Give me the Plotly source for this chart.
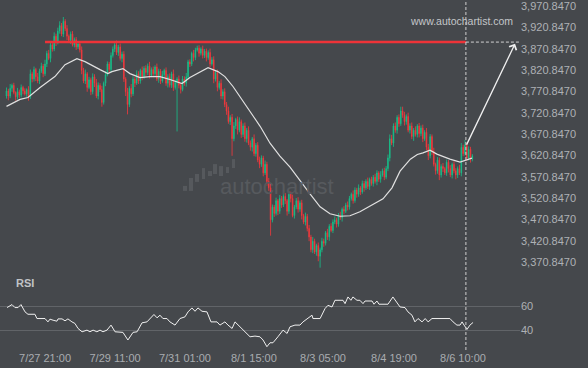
import plotly.graph_objects as go

# ---------------- data ----------------
close = [
    3772, 3760, 3778, 3785, 3768, 3758, 3770, 3762, 3780, 3772,
    3765, 3775, 3758, 3812, 3800, 3822, 3805, 3795, 3818, 3830,
    3812, 3835, 3860, 3848, 3880, 3870, 3900, 3885, 3912, 3925,
    3905, 3935, 3918, 3900, 3890, 3905, 3880, 3892, 3875, 3882,
    3868, 3820, 3795, 3812, 3780, 3798, 3770, 3805, 3790, 3760,
    3785, 3775, 3745, 3790, 3810, 3835, 3822, 3855, 3870, 3880,
    3862, 3875, 3848, 3858, 3800, 3770, 3740, 3778, 3765, 3800,
    3790, 3812, 3795, 3820, 3805, 3825, 3815, 3830, 3808, 3822,
    3812, 3828, 3800, 3818, 3795, 3810, 3820, 3790, 3805, 3785,
    3812, 3780, 3792, 3800, 3785, 3775, 3800, 3790, 3805, 3840,
    3835, 3860, 3850, 3868, 3872, 3860, 3870, 3855, 3865, 3850,
    3862, 3835, 3845, 3800, 3815, 3780, 3790, 3760, 3770, 3740,
    3725, 3700, 3710, 3660, 3690, 3705, 3680, 3700, 3670, 3690,
    3660, 3680, 3650, 3640, 3660, 3625, 3645, 3610, 3600, 3615,
    3580, 3600, 3560, 3545, 3470, 3500, 3485, 3515, 3490, 3520,
    3505, 3525, 3515, 3490, 3530, 3520, 3480, 3500, 3515, 3495,
    3510, 3480, 3465, 3478, 3450, 3430, 3400, 3420, 3395, 3410,
    3385, 3400, 3420, 3415, 3440, 3430, 3455, 3445, 3465, 3470,
    3460, 3480, 3475, 3495, 3490, 3505, 3500, 3520, 3530, 3515,
    3540, 3530, 3545, 3535, 3555, 3545, 3560, 3548, 3565, 3555,
    3570, 3560, 3580, 3565, 3575, 3585, 3570, 3590, 3615, 3660,
    3650, 3690, 3680, 3710, 3695, 3725, 3715, 3700, 3712, 3680,
    3690, 3665, 3680, 3670, 3690, 3672, 3685, 3660, 3675, 3640,
    3620, 3665, 3630, 3600, 3585, 3610, 3575, 3595, 3590, 3580,
    3605, 3590, 3575, 3600, 3585, 3575, 3590, 3580, 3640, 3625,
    3645, 3615, 3635, 3612, 3620,
]
first_open = 3760

wick_up = [
    8, 5, 10, 4, 6, 3, 9, 5, 7, 4,
    6, 3, 8, 10, 5, 7, 4, 9, 6, 8,
    5, 10, 6, 8, 7, 5, 9, 6, 8, 10,
    6, 10, 5, 8, 4, 6, 7, 5, 6, 4,
    5, 8, 6, 10, 4, 7, 5, 8, 6, 10,
    7, 5, 9, 4, 8, 6, 5, 7, 6, 8,
    10, 5, 8, 6, 7, 4, 9, 5, 10, 6,
    5, 8, 6, 4, 9, 5, 7, 6, 10, 5,
    7, 4, 8, 6, 5, 9, 4, 7, 6, 8,
    5, 10, 6, 4, 8, 5, 7, 6, 9, 5,
    6, 4, 8, 5, 6, 7, 4, 8, 5, 6,
    5, 9, 6, 8, 4, 7, 5, 9, 6, 8,
    6, 10, 5, 8, 9, 4, 7, 10, 5, 6,
    8, 5, 9, 6, 4, 10, 5, 7, 8, 6,
    5, 9, 6, 8, 10, 6, 5, 7, 4, 8,
    6, 5, 8, 4, 7, 6, 9, 5, 6, 8,
    5, 7, 4, 9, 6, 8, 5, 10, 6, 4,
    7, 5, 8, 6, 4, 9, 5, 7, 6, 8,
    5, 6, 9, 4, 7, 5, 8, 6, 4, 9,
    6, 5, 8, 4, 7, 6, 5, 9, 4, 6,
    5, 8, 6, 4, 9, 5, 7, 6, 8, 10,
    9, 6, 8, 5, 7, 10, 10, 8, 5, 9,
    6, 8, 5, 9, 4, 7, 6, 8, 5, 10,
    8, 6, 5, 9, 4, 7, 6, 5, 8, 4,
    6, 5, 8, 4, 7, 6, 5, 9, 10, 6,
    12, 5, 7, 6, 4,
]
wick_dn = [
    6, 10, 5, 8, 4, 9, 6, 7, 5, 8,
    4, 7, 9, 5, 8, 6, 10, 5, 7, 4,
    8, 5, 7, 4, 9, 6, 5, 8, 4, 6,
    5, 7, 6, 9, 5, 8, 4, 6, 7, 5,
    6, 9, 5, 7, 10, 4, 8, 6, 9, 5,
    8, 6, 10, 5, 7, 4, 8, 6, 5, 7,
    6, 8, 5, 9, 7, 10, 23, 6, 8, 5,
    9, 4, 7, 6, 8, 5, 10, 6, 7, 4,
    8, 6, 5, 9, 7, 4, 8, 6, 10, 5,
    6, 8, 5, 115, 7, 9, 4, 6, 8, 5,
    7, 5, 9, 6, 4, 8, 5, 7, 6, 9,
    5, 8, 4, 10, 6, 9, 5, 7, 8, 6,
    9, 5, 8, 40, 6, 7, 10, 5, 8, 6,
    7, 9, 5, 8, 10, 6, 7, 5, 9, 6,
    8, 5, 10, 7, 37, 6, 8, 5, 9, 6,
    7, 5, 8, 10, 6, 9, 4, 7, 5, 8,
    6, 9, 5, 8, 7, 10, 6, 8, 5, 9,
    12, 27, 6, 8, 5, 7, 9, 4, 6, 5,
    8, 6, 5, 9, 7, 4, 8, 6, 5, 7,
    5, 8, 6, 7, 4, 9, 5, 6, 8, 5,
    7, 5, 9, 6, 8, 4, 7, 5, 6, 8,
    5, 9, 6, 8, 7, 5, 6, 9, 7, 5,
    8, 6, 10, 5, 7, 9, 6, 8, 5, 7,
    10, 6, 8, 5, 9, 7, 12, 6, 8, 5,
    7, 9, 5, 8, 6, 10, 7, 5, 8, 6,
    5, 7, 6, 8, 5,
]

# moving average
ma_x = [0, 7.4, 11.7, 18.3, 26.4, 31.9, 38.4, 42.8, 51, 55.3, 57.5, 63.5, 67.3,
        72.8, 78.2, 83.7, 89.1, 95.7, 100, 105.5, 109.9, 115.3, 119.1, 123.5,
        127.3, 132.8, 138.3, 143.7, 149.1, 154.6, 160, 165.5, 171, 176.4, 181.9,
        187.3, 192.7, 198.2, 205.3, 210.2, 214.6, 220.2, 224, 227.1, 230.9,
        234.7, 241.8, 247.3, 250.5, 253.8]
ma_val = [3735.7, 3752, 3756.6, 3779.9, 3805.5, 3833.5, 3847.4, 3840.5, 3821.8,
          3812.5, 3817.2, 3824.2, 3812.5, 3803.2, 3805.5, 3805.5, 3798.6, 3789.2,
          3803.2, 3817.2, 3826.5, 3817.2, 3805.5, 3782.3, 3759, 3724, 3689.1,
          3649.5, 3619.3, 3593.7, 3561.1, 3530.8, 3500.5, 3484.2, 3478.4, 3479.6,
          3488.9, 3502.9, 3519.2, 3545, 3584, 3612, 3623, 3627, 3633.3, 3623.9,
          3612.3, 3605.3, 3610, 3614.6]

# RSI
rsi_x = [0.3, 3, 4.6, 6.3, 7.9, 10.1, 11.7, 15.5, 16.6, 21, 22.6, 23.7, 25.4, 27.5,
         28.1, 30.3, 31.9, 33.5, 35.7, 37.3, 39, 41.2, 43.9, 45.5, 47.2, 49.3, 51,
         52.6, 54.8, 57, 59.2, 63.5, 66.2, 69, 71.2, 73.9, 76.6, 78.2, 80.4, 82.1,
         83.7, 85.3, 87.5, 89.1, 91.9, 94.6, 97.3, 99, 101.1, 102.8, 104.4, 106.6,
         109.3, 111.5, 114.8, 116.4, 119.1, 120.8, 123, 124.6, 127.3, 130.1, 132.8,
         135.5, 138.2, 139.9, 142, 143.7, 145.3, 148, 150.8, 153, 154.6, 157.3, 160,
         161.7, 163.9, 166.6, 167.1, 171, 173.7, 175.3, 177.5, 179.1, 183.5, 184.6,
         186.2, 187.8, 188.9, 191.1, 192.7, 194.4, 195.5, 199.3, 200.4, 202, 203.1,
         208, 210.7, 212.9, 214.6, 217.3, 218.9, 221.1, 222.7, 224.4, 226.6, 228.3,
         229.9, 232, 241.8, 243.5, 245.6, 247.3, 248.4, 249.5, 251.1, 252.7, 254.4]
rsi_val = [58.9, 61.4, 58.9, 58.9, 61.4, 55.3, 53.3, 53.3, 49.7, 49.7, 46.9, 49.2,
           48.3, 47.5, 49.4, 49.4, 47.8, 49.4, 46.9, 45.6, 41.4, 38.6, 40, 38.6, 40,
           38.6, 40, 38.6, 40, 44.2, 38.6, 38.1, 31.7, 38.1, 38.6, 46.1, 46.9, 49.7,
           53.1, 50.3, 52.5, 49.7, 49.7, 46.9, 44.2, 49.7, 51.1, 55.3, 58.6, 55.8,
           58.6, 55.8, 55.3, 46.9, 46.9, 44.2, 46.9, 44.2, 41.4, 46.9, 42.8, 38.6,
           34.4, 35, 34.4, 31.7, 26.1, 29.4, 29.4, 34.4, 40, 37.2, 42.8, 44.2, 44.2,
           46.9, 49.7, 52.5, 49.7, 49.7, 58.1, 60.8, 59.4, 65, 65, 62.2, 67.8, 65,
           67.8, 65, 65, 62.2, 64.4, 64.4, 61.7, 64.4, 61.7, 61.7, 67.8, 63.6, 59.4,
           58.9, 55.3, 52.5, 46.9, 49.7, 46.9, 49.7, 46.9, 49.7, 49.7, 46.9, 44.2,
           44.2, 46.9, 44.2, 40.6, 44.2, 46.4]

level = 3886.3          # resistance level
level_start = 21        # bar where the level starts
signal_bar = 250.5      # vertical marker / arrow start
target_bar = 277.3      # arrow end
arrow_from = 3642.6
arrow_to = 3882.4

x_tick_pos = [21, 59.2, 97.3, 134.9, 172.6, 211.3, 248.9]
x_tick_text = ["7/27 21:00", "7/29 11:00", "7/31 01:00", "8/1 15:00",
               "8/3 05:00", "8/4 19:00", "8/6 10:00"]
price_ticks = [3370.847 + 50 * k for k in range(13)]
rsi_ticks = [40, 60]

# ---------------- derive OHLC ----------------
n = len(close)
idx = list(range(n))
opens = [first_open] + close[:-1]
highs = [max(o, c) + u for o, c, u in zip(opens, close, wick_up)]
lows = [min(o, c) - d for o, c, d in zip(opens, close, wick_dn)]

BG = "#45484c"
GREEN = "#17c08a"
RED = "#f5393c"
TXT = "#aeb1b5"
FONT = "Liberation Sans, Arial, sans-serif"

fig = go.Figure()
fig.add_trace(go.Candlestick(
    x=idx, open=opens, high=highs, low=lows, close=close,
    increasing=dict(line=dict(color=GREEN, width=0.8), fillcolor=GREEN),
    decreasing=dict(line=dict(color=RED, width=0.8), fillcolor=RED),
    whiskerwidth=0, hoverinfo="skip", xaxis="x", yaxis="y"))

fig.add_trace(go.Scatter(x=ma_x, y=ma_val, mode="lines",
                         line=dict(color="#e0e0e0", width=1.2),
                         hoverinfo="skip", xaxis="x", yaxis="y"))

fig.add_trace(go.Scatter(x=[level_start, signal_bar], y=[level, level], mode="lines",
                         line=dict(color="#ee3338", width=2.5),
                         hoverinfo="skip", xaxis="x", yaxis="y"))
fig.add_trace(go.Scatter(x=[signal_bar, 280], y=[level, level], mode="lines",
                         line=dict(color="#d0d0d0", width=1, dash="3px,2px"),
                         hoverinfo="skip", xaxis="x", yaxis="y"))

fig.add_trace(go.Scatter(x=rsi_x, y=rsi_val, mode="lines",
                         line=dict(color="#f0f0f0", width=1),
                         hoverinfo="skip", xaxis="x", yaxis="y2"))

fig.add_shape(type="line", xref="x", yref="paper", x0=signal_bar, x1=signal_bar,
              y0=0, y1=1, line=dict(color="#cfcfcf", width=1, dash="3px,2px"))

fig.add_annotation(x=target_bar, y=arrow_to, ax=signal_bar, ay=arrow_from,
                   xref="x", yref="y", axref="x", ayref="y", text="",
                   showarrow=True, arrowhead=4, arrowsize=1.2, arrowwidth=1.3,
                   arrowcolor="#f0f0f0")

# watermarks / labels
fig.add_annotation(xref="paper", yref="paper", x=0.887, y=0.969, xanchor="center",
                   text="www.autochartist.com", showarrow=False,
                   font=dict(family=FONT, size=10.5, color="#c3c6c9"))
fig.add_annotation(xref="paper", yref="paper", x=0.533, y=0.471, xanchor="center",
                   text="autochartist", showarrow=False,
                   font=dict(family=FONT, size=22, color="#575a5e"))
fig.add_annotation(xref="paper", yref="paper", x=0.027, y=0.169, xanchor="left",
                   text="<b>RSI</b>", showarrow=False,
                   font=dict(family=FONT, size=11, color="#c0c3c6"))
logo = [(183, 187, 185, 190), (189, 193, 177, 190), (195, 199, 173, 181),
        (202, 205, 167, 178), (208, 212, 170, 175), (213, 217, 163, 173),
        (219, 223, 165, 175), (226, 229, 166, 172), (232, 235, 158, 167)]
for x0, x1, y0, y1 in logo:
    fig.add_shape(type="rect", xref="paper", yref="paper",
                  x0=x0 / 520, x1=x1 / 520, y0=1 - y1 / 350, y1=1 - y0 / 350,
                  line=dict(width=0), fillcolor="#56595d", layer="below")

fig.update_layout(
    width=588, height=368,
    margin=dict(l=0, r=68, t=0, b=18),
    paper_bgcolor=BG, plot_bgcolor=BG,
    showlegend=False,
    boxgap=0.5,
    font=dict(family=FONT, color=TXT, size=11),
    xaxis=dict(range=[-3.54, 280], anchor="y2", showgrid=False, zeroline=False,
               showline=False, ticks="", tickvals=x_tick_pos, ticktext=x_tick_text,
               tickfont=dict(size=11, color="#a9acb0"), rangeslider=dict(visible=False)),
    yaxis=dict(domain=[0.2143, 1], range=[3339.88, 3980.16], side="right",
               showgrid=False, zeroline=False, showline=False, ticks="",
               tickvals=price_ticks, ticktext=[f"{v:,.4f}" for v in price_ticks],
               ticklabeloverflow="allow",
               tickfont=dict(size=11, color=TXT)),
    yaxis2=dict(domain=[0, 0.1914], range=[23.33, 79.17], side="right",
                showgrid=True, gridcolor="#616468", gridwidth=1, zeroline=False,
                showline=False, ticks="", tickvals=rsi_ticks,
                ticktext=[str(v) for v in rsi_ticks],
                tickfont=dict(size=11, color=TXT)),
)

fig.write_html("out.html")
